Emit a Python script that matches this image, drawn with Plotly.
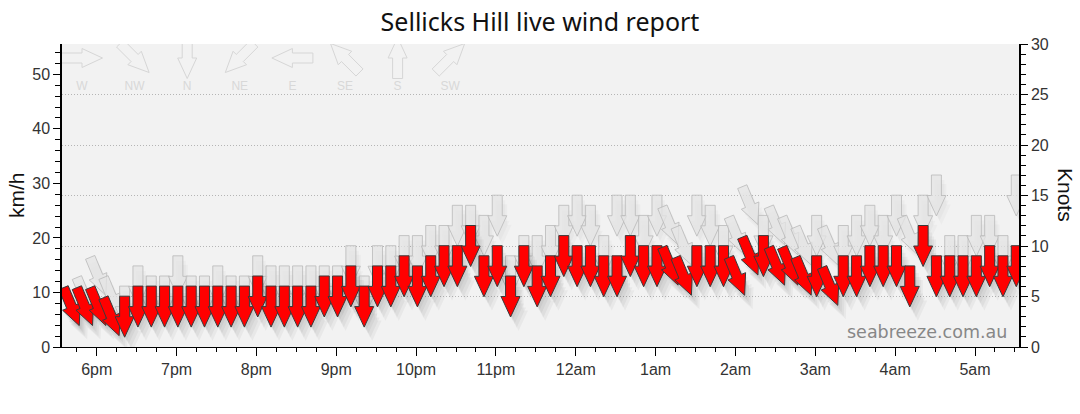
import numpy as np
import pandas as pd
import plotly.graph_objects as go

# ---------------- data ----------------
times = pd.date_range("2024-05-20 17:41", periods=72, freq="10min")

avg_knots = [4, 4, 4, 3, 3, 4, 4, 4, 4, 4, 4, 4, 4, 4, 5, 4, 4, 4,
             4, 5, 5, 6, 4, 6, 6, 7, 6, 7, 8, 8, 10, 7, 8, 5, 8, 6,
             7, 9, 8, 8, 7, 7, 9, 8, 8, 8, 7, 8, 8, 8, 7, 9, 9, 8,
             8, 7, 7, 6, 7, 7, 8, 8, 8, 6, 10, 7, 7, 7, 7, 8, 7, 8]

gust_knots = [4, 5, 7, 5, 4, 6, 5, 5, 7, 5, 5, 6, 5, 5, 7, 6, 6, 6,
              6, 6, 6, 8, 5, 8, 8, 9, 9, 10, 10, 12, 12, 11, 13, 7, 9, 9,
              10, 12, 13, 12, 9, 13, 13, 11, 13, 12, 10, 13, 12, 10, 11, 14, 11, 12,
              11, 10, 11, 10, 10, 11, 12, 11, 13, 11, 13, 15, 9, 9, 11, 11, 9, 15]

avg_dir = ["NNW", "NNW", "NNW", "NNW", "N", "N", "N", "N", "N", "N", "N", "N", "N", "N", "N", "N", "N", "N",
           "N", "N", "N", "N", "N", "N", "N", "N", "N", "N", "N", "N", "N", "N", "N", "N", "N", "N",
           "N", "N", "N", "N", "N", "N", "N", "N", "N", "NNW", "NNW", "N", "N", "N", "NNW", "NNW", "N", "NNW",
           "NNW", "NNW", "N", "NNW", "N", "N", "N", "N", "N", "N", "N", "N", "N", "N", "N", "N", "N", "N"]

gust_dir = ["NNW", "NNW", "NNW", "NNW", "N", "N", "N", "N", "N", "N", "N", "N", "N", "N", "N", "N", "N", "N",
            "N", "N", "N", "N", "N", "N", "N", "N", "N", "N", "N", "N", "N", "N", "N", "N", "N", "N",
            "N", "N", "N", "N", "N", "N", "N", "N", "N", "NNW", "NNW", "N", "N", "N", "NNW", "NNW", "N", "NNW",
            "NNW", "NNW", "N", "NNW", "N", "N", "N", "N", "N", "NNW", "N", "N", "N", "N", "N", "N", "N", "N"]

hour_ticks = pd.date_range("2024-05-20 18:00", periods=12, freq="1h")
hour_labels = ["6pm", "7pm", "8pm", "9pm", "10pm", "11pm", "12am",
               "1am", "2am", "3am", "4am", "5am"]

legend_dirs = ["W", "NW", "N", "NE", "E", "SE", "S", "SW"]

COMPASS = {"N": 0, "NNE": 22.5, "NE": 45, "ENE": 67.5, "E": 90, "ESE": 112.5,
           "SE": 135, "SSE": 157.5, "S": 180, "SSW": 202.5, "SW": 225,
           "WSW": 247.5, "W": 270, "WNW": 292.5, "NW": 315, "NNW": 337.5}

# ---------------- geometry / layout constants ----------------
W, H = 1080, 414
ML, MR, MT, MB = 62, 61, 44, 67
PLOT_W = W - ML - MR
PLOT_H = H - MT - MB
T0 = pd.Timestamp("2024-05-20 17:33:56")
T1 = pd.Timestamp("2024-05-21 05:33:03")
KN_MAX = 30
MS_PER_PX = (T1 - T0).total_seconds() * 1000 / PLOT_W
KN_PER_PX = KN_MAX / PLOT_H

# arrow outline in pixels: (u along heading, w across), centred on the value
ARROW = [(-20.5, -5), (0, -5), (0, -9.5), (20.5, 0), (0, 9.5), (0, 5), (-20.5, 5), (-20.5, -5)]


def arrow_px(direction, off_x=0.0, off_y=0.0):
    """pixel offsets (x right, y up) of an arrow blowing from `direction`"""
    b = np.radians((COMPASS[direction] + 180) % 360)
    hx, hy = np.sin(b), np.cos(b)
    px_, py_ = np.cos(b), -np.sin(b)
    pts = []
    for u, w in ARROW:
        pts.append((u * hx + w * px_ + off_x, u * hy + w * py_ - off_y))
    return pts


def arrow_data(t, v, direction, off_x=0.0, off_y=0.0):
    xs, ys = [], []
    for dx, dy in arrow_px(direction, off_x, off_y):
        xs.append(t + pd.Timedelta(milliseconds=dx * MS_PER_PX))
        ys.append(v + dy * KN_PER_PX)
    return xs, ys


fig = go.Figure()

# dummy trace so the km/h axis subplot exists
fig.add_trace(go.Scatter(x=[None], y=[None], xaxis="x", yaxis="y", hoverinfo="skip"))

# ---------------- direction legend (pixel overlay) ----------------
leg_x0, leg_dx, leg_y = 20, 52.6, PLOT_H - 14
for i, d in enumerate(legend_dirs):
    cx = leg_x0 + i * leg_dx
    pts = arrow_px(d)
    fig.add_trace(go.Scatter(
        x=[cx + p[0] for p in pts], y=[leg_y + p[1] for p in pts],
        xaxis="x3", yaxis="y3", mode="lines", fill="toself",
        fillcolor="rgba(0,0,0,0)", line=dict(color="#d6d6d6", width=1),
        hoverinfo="skip"))
fig.add_trace(go.Scatter(
    x=[leg_x0 + i * leg_dx for i in range(len(legend_dirs))],
    y=[PLOT_H - 43] * len(legend_dirs), text=legend_dirs, mode="text",
    xaxis="x3", yaxis="y3",
    textfont=dict(family="Liberation Sans", size=12, color="#d8d8d8"),
    hoverinfo="skip"))


def shadow_trace(values, dirs, ox, oy, color):
    xs, ys = [], []
    for t, v, d in zip(times, values, dirs):
        ax, ay = arrow_data(t, v, d, ox, oy)
        xs += ax + [None]
        ys += ay + [None]
    return go.Scatter(x=xs, y=ys, mode="none", fill="toself", fillcolor=color,
                      xaxis="x", yaxis="y2", hoverinfo="skip")


# gust shadows + gust arrows
for ox, oy in [(3, 5), (5, 9)]:
    fig.add_trace(shadow_trace(gust_knots, gust_dir, ox, oy, "rgba(0,0,0,0.025)"))
for t, v, d in zip(times, gust_knots, gust_dir):
    ax, ay = arrow_data(t, v, d)
    fig.add_trace(go.Scatter(x=ax, y=ay, mode="lines", fill="toself",
                             fillcolor="rgba(228,228,228,0.75)",
                             line=dict(color="rgba(185,185,185,0.8)", width=1),
                             xaxis="x", yaxis="y2", hoverinfo="skip"))

# average shadows + average arrows
for ox, oy in [(2, 4), (4, 7), (6, 11), (8, 14)]:
    fig.add_trace(shadow_trace(avg_knots, avg_dir, ox, oy, "rgba(0,0,0,0.04)"))
for t, v, d in zip(times, avg_knots, avg_dir):
    ax, ay = arrow_data(t, v, d)
    fig.add_trace(go.Scatter(x=ax, y=ay, mode="lines", fill="toself",
                             fillcolor="#ff0000",
                             line=dict(color="#3a3a3a", width=1),
                             xaxis="x", yaxis="y2", hoverinfo="skip"))

minor_ticks = pd.date_range("2024-05-20 17:45", "2024-05-21 05:30", freq="15min")

tickfont = dict(family="Liberation Sans", size=16, color="#333333")
fig.update_layout(
    width=W, height=H,
    margin=dict(l=ML, r=MR, t=MT, b=MB),
    paper_bgcolor="white", plot_bgcolor="#f2f2f2",
    showlegend=False,
    title=dict(text="Sellicks Hill live wind report", x=0.5, xref="container",
               y=1 - 22 / H, yref="container", yanchor="middle", xanchor="center",
               font=dict(family="Noto Sans", size=25, color="#111111")),
    xaxis=dict(type="date", range=[T0, T1], tickmode="array",
               tickvals=list(hour_ticks), ticktext=hour_labels,
               ticks="outside", ticklen=8, tickcolor="#000", tickwidth=1,
               showline=True, linecolor="#000", linewidth=1,
               showgrid=False, zeroline=False, tickfont=tickfont,
               minor=dict(tickmode="array", tickvals=list(minor_ticks),
                          ticks="outside", ticklen=4, tickcolor="#000", showgrid=False)),
    yaxis=dict(range=[0, KN_MAX * 1.852], tick0=0, dtick=10,
               ticks="outside", ticklen=7, tickcolor="#000",
               showline=True, linecolor="#000", linewidth=1.5,
               showgrid=False, zeroline=False, tickfont=tickfont,
               minor=dict(dtick=2, ticks="outside", ticklen=5, tickcolor="#000", showgrid=False)),
    yaxis2=dict(overlaying="y", side="right", range=[0, KN_MAX], tick0=0, dtick=5,
                ticks="outside", ticklen=7, tickcolor="#000",
                showline=True, linecolor="#000", linewidth=1.5,
                showgrid=True, gridcolor="#b5b5b5", griddash="1px,2px", gridwidth=1,
                zeroline=False, tickfont=tickfont,
                minor=dict(dtick=1, ticks="outside", ticklen=5, tickcolor="#000", showgrid=False)),
    xaxis3=dict(overlaying="x", anchor="y3", range=[0, PLOT_W], visible=False),
    yaxis3=dict(overlaying="y", anchor="x3", range=[0, PLOT_H], visible=False),
    annotations=[
        dict(text="km/h", xref="paper", yref="paper", x=(16 - ML) / PLOT_W, y=(H - MB - 195) / PLOT_H,
             textangle=-90, showarrow=False, xanchor="center", yanchor="middle",
             font=dict(family="Liberation Sans", size=21, color="#111")),
        dict(text="Knots", xref="paper", yref="paper", x=(1066 - ML) / PLOT_W, y=(H - MB - 195) / PLOT_H,
             textangle=90, showarrow=False, xanchor="center", yanchor="middle",
             font=dict(family="Liberation Sans", size=21, color="#111")),
        dict(text="seabreeze.com.au", xref="paper", yref="paper", x=(1009 - ML) / PLOT_W,
             y=(H - MB - 331.5) / PLOT_H, xanchor="right", yanchor="middle", showarrow=False,
             font=dict(family="DejaVu Sans", size=17.5, color="#878787")),
    ],
)

fig.write_html("out.html", config={"displayModeBar": False},
               post_script="document.body.style.margin='0';document.body.style.overflow='hidden';")
